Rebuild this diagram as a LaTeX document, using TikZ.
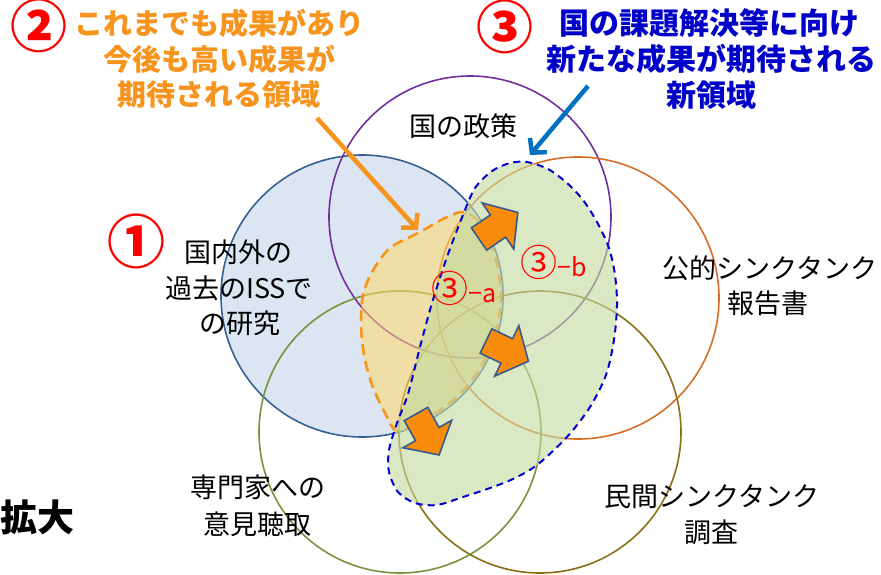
\documentclass[tikz,border=0pt]{standalone}
\usepackage{fontspec}
\newfontfamily\jp{Noto Sans CJK JP}
\usetikzlibrary{arrows.meta}
\definecolor{cblue}{RGB}{55,96,146}
\definecolor{cbluefill}{RGB}{220,230,242}
\definecolor{cpurple}{RGB}{112,48,160}
\definecolor{corange}{RGB}{214,110,40}
\definecolor{cgreen}{RGB}{119,147,60}
\definecolor{colive}{RGB}{140,110,20}
\definecolor{torange}{RGB}{247,148,30}
\definecolor{tblue}{RGB}{0,0,200}
\definecolor{dblue}{RGB}{0,0,210}
\definecolor{arrblue}{RGB}{0,112,192}
\definecolor{regfill}{RGB}{255,217,102}
\definecolor{blobfill}{RGB}{196,218,160}
\definecolor{barfill}{RGB}{248,140,10}
\definecolor{barline}{RGB}{55,90,140}
\definecolor{red}{RGB}{255,0,0}
\tikzset{
  venn/.style={circle,minimum size=282pt,inner sep=0pt,outer sep=0pt,line width=1.6pt},
  lbl/.style={font=\jp\fontsize{27}{30}\selectfont,inner sep=0pt,text=black},
  hdo/.style={font=\jp\bfseries\fontsize{29}{32}\selectfont,inner sep=0pt,text=torange},
  hdb/.style={font=\jp\bfseries\fontsize{30}{33}\selectfont,inner sep=0pt,text=tblue},
  num/.style={font=\jp\bfseries\fontsize{57}{60}\selectfont,inner sep=0pt,text=red},
  sub/.style={font=\jp\fontsize{25}{26}\selectfont,inner sep=0pt,text=red},
  barrow/.pic={\draw[fill=barfill,draw=barline,line width=1.6pt,line join=miter]
     (0,-13.5)--(23,-13.5)--(23,-28)--(47,0)--(23,28)--(23,13.5)--(0,13.5)--cycle;}
}
\newcommand{\bigc}[1]{{\fontsize{37}{38}\selectfont #1}}
\begin{document}
\begin{tikzpicture}[x=1pt,y=-1pt]
\useasboundingbox (0,0) rectangle (881,574);
% circles
\node[venn,draw=cblue,fill=cbluefill] (c1) at (362,296) {};
\node[venn,draw=cpurple] (c2) at (470,217) {};
\node[venn,draw=corange] (c3) at (578,298) {};
\node[venn,draw=cgreen] (c4) at (400,432) {};
\node[venn,draw=colive] (c5) at (540,432) {};
% region 2 (orange dashed)
\draw[fill=regfill,fill opacity=0.55,draw=torange,line width=2.6pt,dash pattern=on 11pt off 6pt]
  plot[smooth cycle,tension=0.5] coordinates {(465,212) (482,226) (496,260) (501,296) (496,332) (482,365) (460,394) (431,416) (398,431)
   (385,413) (372,385) (364,355) (361,325) (363,295) (372,272) (390,248) (420,232) (445,218)};
% region 3 (blob)
\fill[blobfill,fill opacity=0.62]
  plot[smooth cycle] coordinates {(527,162) (548,169) (567,183) (583,200) (597,222) (609,248) (615,275) (617,305) (614,340) (606,375) (590,407) (567,437) (537,465) (513,479) (490,488) (463,497) (437,505) (415,503) (398,492) (389,472) (389,450) (397,423) (408,394) (420,347) (432,303) (447,257) (463,215) (475,188) (492,171) (510,163)};
\draw[draw=dblue,line width=2pt,dash pattern=on 7pt off 5pt]
  plot[smooth cycle] coordinates {(527,162) (548,169) (567,183) (583,200) (597,222) (609,248) (615,275) (617,305) (614,340) (606,375) (590,407) (567,437) (537,465) (513,479) (490,488) (463,497) (437,505) (415,503) (398,492) (389,472) (389,450) (397,423) (408,394) (420,347) (432,303) (447,257) (463,215) (475,188) (492,171) (510,163)};
% block arrows
\pic[rotate=34.4] at (479,239) {barrow};
\pic[rotate=-25.5] at (486,341) {barrow};
\pic[rotate=-60.6] at (416,414) {barrow};
% headers
\node[num] (n2) at (39,26) {②};
\node[hdo] (h21) at (219,23) {これまでも成果があり};
\node[hdo] (h22) at (219,59) {今後も高い成果が};
\node[hdo] (h23) at (219,95) {期待される領域};
\node[num] (n3) at (505,27) {③};
\node[hdb] (h31) at (709,23) {国の課題解決等に向け};
\node[hdb] (h32) at (711,59) {新たな成果が期待される};
\node[hdb] (h33) at (711,95) {新領域};
% pointer arrows
\coordinate (oa) at (317,118);
\coordinate (ot) at (418,230);
\draw[torange,line width=4.5pt,-{Straight Barb[length=10pt,width=22pt]}] (oa) -- (ot);
\coordinate (ba) at (588,86);
\coordinate (bt) at (530,155);
\draw[arrblue,line width=4.5pt,-{Straight Barb[length=10pt,width=22pt]}] (ba) -- (bt);
% labels
\node[lbl] (l0) at (463,126) {国の政策};
\node[num,font=\jp\bfseries\fontsize{58}{60}\selectfont] (n1) at (136,241) {①};
\node[lbl] (l11) at (238,252) {国内外の};
\node[lbl] (l12) at (239,288) {過去のISSで};
\node[lbl] (l13) at (240,323) {の研究};
\node[lbl] (l31) at (770,268) {公的シンクタンク};
\node[lbl] (l32) at (768,303) {報告書};
\node[lbl] (l41) at (258,487) {専門家への};
\node[lbl] (l42) at (257,524) {意見聴取};
\node[lbl] (l51) at (712,497) {民間シンクタンク};
\node[lbl] (l52) at (711,532) {調査};
\node[sub] (sa) at (464,288) {\bigc{③}−a};
\node[sub] (sb) at (554,262) {\bigc{③}−b};
\node[font=\jp\bfseries\fontsize{37}{40}\selectfont,inner sep=0pt,anchor=east] (kd) at (75,517) {拡大};
\end{tikzpicture}
\end{document}
